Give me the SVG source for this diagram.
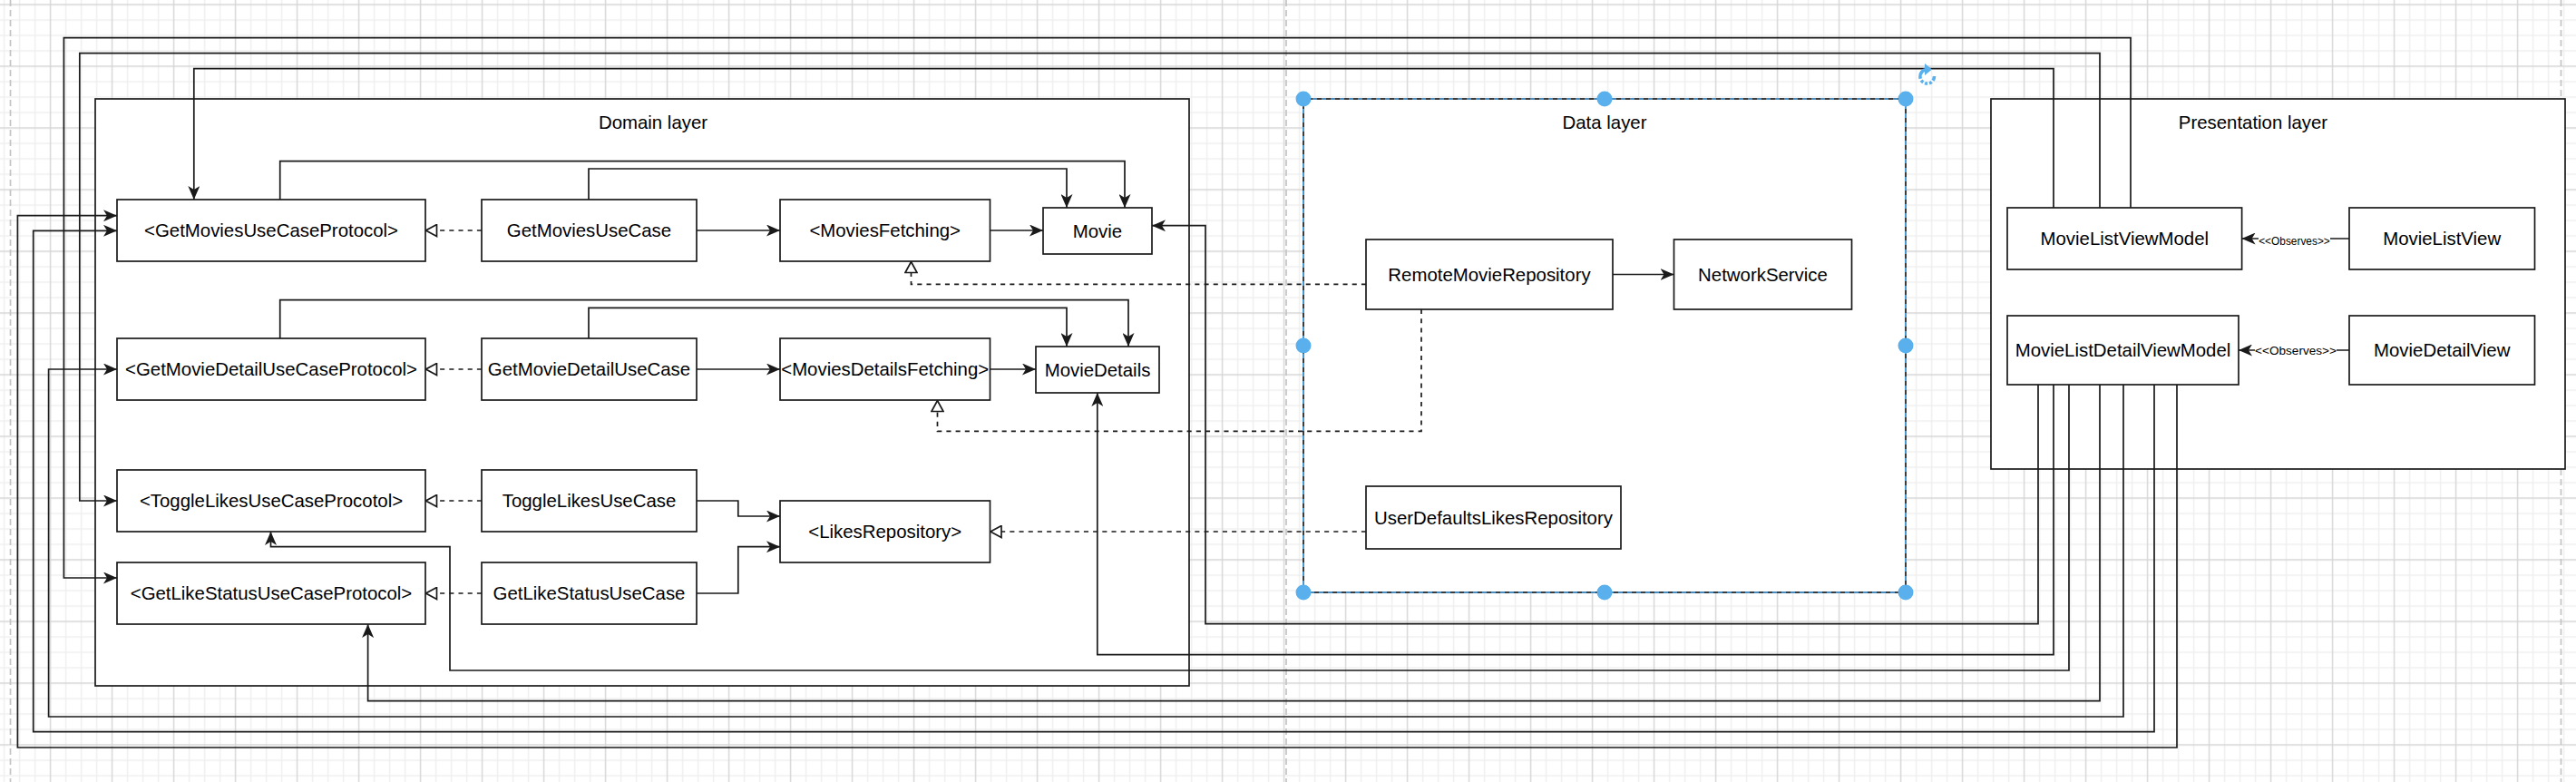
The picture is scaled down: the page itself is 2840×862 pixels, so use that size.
<svg xmlns="http://www.w3.org/2000/svg" width="2840" height="862" viewBox="0 0 2840 862">
<style>
.box{fill:#fff;stroke:#1a1a1a;stroke-width:1.7}
.t{font-family:"Liberation Sans",Arial,Helvetica,sans-serif;font-size:20.4px;fill:#000;text-anchor:middle}
.c{fill:none;stroke:#1a1a1a;stroke-width:1.7}
.a{marker-end:url(#arr)}
.d{stroke-dasharray:5.1 5.1;marker-end:url(#tri)}
.lbl{font-family:"Liberation Sans",Arial,Helvetica,sans-serif;fill:#000;text-anchor:middle}
.pg{stroke:#c4c4c4;stroke-width:1.7;stroke-dasharray:7 4;fill:none}
.h{fill:#5ab0ec}
</style>
<defs>
<pattern id="grid" width="68" height="68" patternUnits="userSpaceOnUse" x="54.8" y="4.3">
<rect width="68" height="68" fill="#fff"/>
<path d="M17.7,0V68M34.7,0V68M51.7,0V68M0,17.7H68M0,34.7H68M0,51.7H68" stroke="#efefef" stroke-width="1.4"/>
<path d="M0.7,0V68M0,0.7H68" stroke="#d6d6d6" stroke-width="1.4"/>
</pattern>
<marker id="arr" markerUnits="userSpaceOnUse" viewBox="0 0 15 13" markerWidth="15" markerHeight="13" refX="15" refY="6.5" orient="auto">
<path d="M0,0 L15,6.5 L0,13 L4,6.5 Z" fill="#1a1a1a" stroke="none"/>
</marker>
<marker id="tri" markerUnits="userSpaceOnUse" viewBox="-1 -1 15 15" markerWidth="15" markerHeight="15" refX="12.5" refY="6.5" orient="auto">
<path d="M0,0 L12,6.5 L0,13 Z" fill="#fff" stroke="#1a1a1a" stroke-width="1.7" stroke-dasharray="none"/>
</marker>
</defs>
<rect width="2840" height="862" fill="url(#grid)"/>
<g id="page-breaks">
<line class="pg" x1="11.5" y1="0" x2="11.5" y2="862"/>
<line class="pg" x1="1418" y1="0" x2="1418" y2="862"/>
<line class="pg" x1="2823.5" y1="0" x2="2823.5" y2="862"/>
</g>
<g id="domain-layer">
<rect class="box" x="105" y="109" width="1206" height="647"/>
<text class="t" x="720" y="142">Domain layer</text>
</g>
<g id="data-layer">
<rect class="box" x="1437" y="109" width="664" height="544"/>
<text class="t" x="1769" y="142">Data layer</text>
</g>
<g id="presentation-layer">
<rect class="box" x="2195" y="109" width="633" height="408"/>
<text class="t" x="2484" y="142">Presentation layer</text>
</g>
<g id="connectors">
<path class="c a" d="M2349,229 V41.7 H70.4 V637 H129"/>
<path class="c a" d="M2315,229 V58.7 H87.8 V552 H129"/>
<path class="c a" d="M2264,229 V75.7 H213.8 V220"/>
<path class="c a" d="M2400,424 V824 H19.4 V237.7 H129"/>
<path class="c a" d="M2375,424 V806.7 H36.7 V254.3 H129"/>
<path class="c a" d="M2341,424 V790 H53.6 V407 H129"/>
<path class="c a" d="M2315,424 V772.7 H405.6 V688"/>
<path class="c a" d="M2281,424 V739 H496 V602.7 H298.5 V586"/>
<path class="c a" d="M2264,424 V721.7 H1209.8 V433"/>
<path class="c a" d="M2247,424 V687.7 H1329 V248.7 H1270"/>
<path class="c a" d="M308.7,220 V177.7 H1240 V229"/>
<path class="c a" d="M649,220 V186 H1176 V229"/>
<path class="c a" d="M308.7,373 V330.7 H1244 V382"/>
<path class="c a" d="M649,373 V339.3 H1176 V382"/>
<path class="c a" d="M768,254 H860"/>
<path class="c a" d="M1091.5,254 H1150"/>
<path class="c a" d="M768,407 H860"/>
<path class="c a" d="M1091.5,407 H1142"/>
<path class="c a" d="M768,552 H813.8 V569 H860"/>
<path class="c a" d="M768,654 H813.8 V602.7 H860"/>
<path class="c d" d="M531,254 H469"/>
<path class="c d" d="M531,407 H469"/>
<path class="c d" d="M531,552 H469"/>
<path class="c d" d="M531,654 H469"/>
<path class="c d" d="M1506,313.4 H1004.5 V288"/>
<path class="c d" d="M1567,341 V475.3 H1033.5 V441"/>
<path class="c d" d="M1506,586 H1091.5"/>
<path class="c a" d="M1778,302.5 H1845.5"/>
<path class="c a" d="M2590,263 H2471.6"/>
<rect x="2490" y="258" width="79" height="13" fill="#fff"/>
<text class="lbl" x="2529.5" y="269.5" font-size="11.9">&lt;&lt;Observes&gt;&gt;</text>
<path class="c a" d="M2590,386 H2468"/>
<rect x="2486" y="380" width="90" height="13" fill="#fff"/>
<text class="lbl" x="2531" y="391" font-size="13.6">&lt;&lt;Observes&gt;&gt;</text>
</g>
<g id="n-getmoviesusecaseprotocol"><rect class="box" x="129" y="220" width="340" height="68"/><text class="t" x="299" y="261">&lt;GetMoviesUseCaseProtocol&gt;</text></g>
<g id="n-getmoviesusecase"><rect class="box" x="531" y="220" width="237" height="68"/><text class="t" x="649.5" y="261">GetMoviesUseCase</text></g>
<g id="n-moviesfetching"><rect class="box" x="860" y="220" width="231.5" height="68"/><text class="t" x="975.7" y="261">&lt;MoviesFetching&gt;</text></g>
<g id="n-movie"><rect class="box" x="1150" y="229" width="120" height="51"/><text class="t" x="1210" y="261.5">Movie</text></g>
<g id="n-getmoviedetailusecaseprotocol"><rect class="box" x="129" y="373" width="340" height="68"/><text class="t" x="299" y="414">&lt;GetMovieDetailUseCaseProtocol&gt;</text></g>
<g id="n-getmoviedetailusecase"><rect class="box" x="531" y="373" width="237" height="68"/><text class="t" x="649.5" y="414">GetMovieDetailUseCase</text></g>
<g id="n-moviesdetailsfetching"><rect class="box" x="860" y="373" width="231.5" height="68"/><text class="t" x="975.7" y="414">&lt;MoviesDetailsFetching&gt;</text></g>
<g id="n-moviedetails"><rect class="box" x="1142" y="382" width="136" height="51"/><text class="t" x="1210" y="414.5">MovieDetails</text></g>
<g id="n-togglelikesusecaseprocotol"><rect class="box" x="129" y="518" width="340" height="68"/><text class="t" x="299" y="559">&lt;ToggleLikesUseCaseProcotol&gt;</text></g>
<g id="n-togglelikesusecase"><rect class="box" x="531" y="518" width="237" height="68"/><text class="t" x="649.5" y="559">ToggleLikesUseCase</text></g>
<g id="n-likesrepository"><rect class="box" x="860" y="552" width="231.5" height="68"/><text class="t" x="975.7" y="593">&lt;LikesRepository&gt;</text></g>
<g id="n-getlikestatususecaseprotocol"><rect class="box" x="129" y="620" width="340" height="68"/><text class="t" x="299" y="661">&lt;GetLikeStatusUseCaseProtocol&gt;</text></g>
<g id="n-getlikestatususecase"><rect class="box" x="531" y="620" width="237" height="68"/><text class="t" x="649.5" y="661">GetLikeStatusUseCase</text></g>
<g id="n-remotemovierepository"><rect class="box" x="1506" y="264" width="272" height="77"/><text class="t" x="1642" y="309.5">RemoteMovieRepository</text></g>
<g id="n-networkservice"><rect class="box" x="1845.5" y="264" width="196" height="77"/><text class="t" x="1943.5" y="309.5">NetworkService</text></g>
<g id="n-userdefaultslikesrepository"><rect class="box" x="1506" y="536" width="281" height="69"/><text class="t" x="1646.5" y="577.5">UserDefaultsLikesRepository</text></g>
<g id="n-movielistviewmodel"><rect class="box" x="2213" y="229" width="258.6" height="68"/><text class="t" x="2342.3" y="270">MovieListViewModel</text></g>
<g id="n-movielistview"><rect class="box" x="2590" y="229" width="204.5" height="68"/><text class="t" x="2692.2" y="270">MovieListView</text></g>
<g id="n-movielistdetailviewmodel"><rect class="box" x="2213" y="348" width="255" height="76"/><text class="t" x="2340.5" y="393">MovieListDetailViewModel</text></g>
<g id="n-moviedetailview"><rect class="box" x="2590" y="348" width="204.5" height="76"/><text class="t" x="2692.2" y="393">MovieDetailView</text></g>
<g id="selection">
<rect x="1437" y="109" width="664" height="544" fill="none" stroke="#4da6e8" stroke-width="1.7" stroke-dasharray="5 5"/>
<circle class="h" cx="1437" cy="109" r="8.5"/>
<circle class="h" cx="1769" cy="109" r="8.5"/>
<circle class="h" cx="2101" cy="109" r="8.5"/>
<circle class="h" cx="1437" cy="381" r="8.5"/>
<circle class="h" cx="2101" cy="381" r="8.5"/>
<circle class="h" cx="1437" cy="653" r="8.5"/>
<circle class="h" cx="1769" cy="653" r="8.5"/>
<circle class="h" cx="2101" cy="653" r="8.5"/>
<path d="M2124,76.5 A7.8,7.8 0 1 0 2132.5,84" fill="none" stroke="#5ab0ec" stroke-width="3.6" stroke-dasharray="14 2 3 2 3 2 3 2 40"/>
<path d="M2122,70 L2130,76.5 L2122,83 Z" fill="#5ab0ec"/>
</g>
</svg>
